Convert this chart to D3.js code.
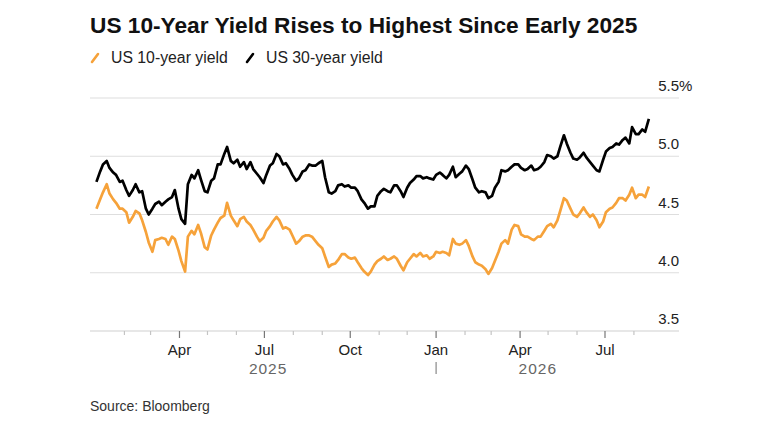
<!DOCTYPE html>
<html>
<head>
<meta charset="utf-8">
<script src="https://cdn.jsdelivr.net/npm/d3@7"></script>
<style>
  body { margin: 0; background: #fff; }
  svg { display: block; font-family: "Liberation Sans", Arial, sans-serif; }
</style>
</head>
<body>
<svg width="760" height="432"></svg>
<script>
// observation dates (Thu / Mon pairs)
var dates = [
  "2025-01-02","2025-01-06","2025-01-09","2025-01-13","2025-01-16","2025-01-20","2025-01-23","2025-01-27",
  "2025-01-30","2025-02-03","2025-02-06","2025-02-10","2025-02-13","2025-02-17","2025-02-20","2025-02-24",
  "2025-02-27","2025-03-03","2025-03-06","2025-03-10","2025-03-13","2025-03-17","2025-03-20","2025-03-24",
  "2025-03-27","2025-03-31","2025-04-03","2025-04-07","2025-04-10","2025-04-14","2025-04-17","2025-04-21",
  "2025-04-24","2025-04-28","2025-05-01","2025-05-05","2025-05-08","2025-05-12","2025-05-15","2025-05-19",
  "2025-05-22","2025-05-26","2025-05-29","2025-06-02","2025-06-05","2025-06-09","2025-06-12","2025-06-16",
  "2025-06-19","2025-06-23","2025-06-26","2025-06-30","2025-07-03","2025-07-07","2025-07-10","2025-07-14",
  "2025-07-17","2025-07-21","2025-07-24","2025-07-28","2025-07-31","2025-08-04","2025-08-07","2025-08-11",
  "2025-08-14","2025-08-18","2025-08-21","2025-08-25","2025-08-28","2025-09-01","2025-09-04","2025-09-08",
  "2025-09-11","2025-09-15","2025-09-18","2025-09-22","2025-09-25","2025-09-29","2025-10-02","2025-10-06",
  "2025-10-09","2025-10-13","2025-10-16","2025-10-20","2025-10-23","2025-10-27","2025-10-30","2025-11-03",
  "2025-11-06","2025-11-10","2025-11-13","2025-11-17","2025-11-20","2025-11-24","2025-11-27","2025-12-01",
  "2025-12-04","2025-12-08","2025-12-11","2025-12-15","2025-12-18","2025-12-22","2025-12-25","2025-12-29",
  "2026-01-01","2026-01-05","2026-01-08","2026-01-12","2026-01-15","2026-01-19","2026-01-22","2026-01-26",
  "2026-01-29","2026-02-02","2026-02-05","2026-02-09","2026-02-12","2026-02-16","2026-02-19","2026-02-23",
  "2026-02-26","2026-03-02","2026-03-05","2026-03-09","2026-03-12","2026-03-16","2026-03-19","2026-03-23",
  "2026-03-26","2026-03-30","2026-04-02","2026-04-06","2026-04-09","2026-04-13","2026-04-16","2026-04-20",
  "2026-04-23","2026-04-27","2026-04-30","2026-05-04","2026-05-07","2026-05-11","2026-05-14","2026-05-18",
  "2026-05-21","2026-05-25","2026-05-28","2026-06-01","2026-06-04","2026-06-08","2026-06-11","2026-06-15",
  "2026-06-18","2026-06-22","2026-06-25","2026-06-29","2026-07-02","2026-07-06","2026-07-09","2026-07-13",
  "2026-07-16","2026-07-20","2026-07-23","2026-07-27","2026-07-30","2026-08-03","2026-08-06","2026-08-10",
  "2026-08-13","2026-08-17"
];

var tenYear = [
  4.55,4.63, 4.69,4.76, 4.68,4.63, 4.60,4.55, 4.55,4.52, 4.43,4.48, 4.53,4.51, 4.45,4.35,
  4.26,4.18, 4.28,4.29, 4.30,4.29, 4.24,4.31, 4.29,4.19, 4.10,4.01, 4.31,4.36, 4.33,4.41,
  4.34,4.22, 4.20,4.32, 4.37,4.43, 4.47,4.49, 4.60,4.49, 4.45,4.40, 4.46,4.48, 4.44,4.41,
  4.37,4.31, 4.27,4.30, 4.36,4.40, 4.44,4.48, 4.45,4.38, 4.39,4.37, 4.32,4.25, 4.27,4.31,
  4.32,4.32, 4.31,4.27, 4.24,4.21, 4.14,4.05, 4.07,4.08, 4.11,4.16, 4.16,4.13, 4.12,4.13,
  4.09,4.04, 4.01,3.98, 4.01,4.07, 4.10,4.12, 4.14,4.11, 4.12,4.14, 4.12,4.06, 4.02,4.09,
  4.12,4.16, 4.14,4.17, 4.14,4.15, 4.12,4.14, 4.18,4.17, 4.18,4.17, 4.15,4.29, 4.25,4.24,
  4.25,4.28, 4.23,4.14, 4.09,4.07, 4.06,4.03, 3.99,4.04, 4.10,4.18, 4.25,4.28, 4.25,4.37,
  4.41,4.40, 4.33,4.31, 4.31,4.29, 4.28,4.31, 4.31,4.36, 4.40,4.42, 4.39,4.45, 4.53,4.64,
  4.62,4.55, 4.50,4.48, 4.51,4.56, 4.52,4.48, 4.50,4.45, 4.39,4.44, 4.52,4.55, 4.56,4.60,
  4.64,4.64, 4.62,4.67, 4.73,4.64, 4.67,4.67, 4.65,4.74
];

var thirtyYear = [
  4.78,4.87, 4.93,4.96, 4.90,4.86, 4.84,4.78, 4.79,4.71, 4.66,4.71, 4.76,4.69, 4.70,4.55,
  4.50,4.55, 4.59,4.61, 4.58,4.61, 4.63,4.65, 4.71,4.55, 4.46,4.42, 4.76,4.84, 4.81,4.88,
  4.80,4.70, 4.69,4.79, 4.81,4.93, 4.93,5.02, 5.08,4.96, 4.94,4.97, 4.91,4.95, 4.89,4.95,
  4.89,4.85, 4.82,4.77, 4.84,4.92, 4.94,5.02, 5.00,4.93, 4.94,4.89, 4.84,4.79, 4.81,4.87,
  4.88,4.93, 4.92,4.92, 4.94,4.96, 4.82,4.69, 4.68,4.70, 4.75,4.76, 4.74,4.75, 4.73,4.73,
  4.70,4.63, 4.60,4.55, 4.57,4.57, 4.66,4.70, 4.72,4.70, 4.69,4.75, 4.75,4.70, 4.65,4.73,
  4.77,4.80, 4.83,4.83, 4.81,4.82, 4.81,4.80, 4.84,4.86, 4.84,4.81, 4.84,4.91, 4.82,4.85,
  4.87,4.92, 4.89,4.80, 4.73,4.69, 4.70,4.69, 4.64,4.66, 4.73,4.78, 4.88,4.87, 4.88,4.91,
  4.93,4.93, 4.90,4.88, 4.89,4.92, 4.88,4.89, 4.91,4.95, 5.01,5.00, 4.98,5.00, 5.08,5.18,
  5.11,5.03, 4.98,4.97, 4.99,5.03, 4.99,4.95, 4.92,4.88, 4.87,4.97, 5.04,5.07, 5.08,5.11,
  5.10,5.14, 5.16,5.11, 5.25,5.19, 5.19,5.23, 5.21,5.32
];

var yTicks = [3.5, 4.0, 4.5, 5.0, 5.5];
var quarterLabels = ["Apr", "Jul", "Oct", "Jan", "Apr", "Jul"];
var quarterDates = ["2025-04-01", "2025-07-01", "2025-10-01", "2026-01-01", "2026-04-01", "2026-07-01"];
var yearLabels = ["2025", "2026"];
var yearDates = ["2025-07-05", "2026-04-20"];

var svg = d3.select("svg"),
    width = +svg.attr("width"),
    height = +svg.attr("height");

var parse = d3.timeParse("%Y-%m-%d");
var orange = "#f6a23a";

var plotLeft = 90, plotRight = 679, plotTop = 98, plotBottom = 331;

var x = d3.scaleTime()
    .domain([parse("2025-01-01"), parse("2026-07-01")])
    .range([95.5, 605]);

var y = d3.scaleLinear()
    .domain([3.5, 5.5])
    .range([plotBottom, plotTop]);

// title + legend
svg.append("text")
    .attr("x", plotLeft).attr("y", 33)
    .attr("font-size", "22.7px").attr("font-weight", 700)
    .attr("fill", "#111")
    .text("US 10-Year Yield Rises to Highest Since Early 2025");

var legend = [
  { name: "US 10-year yield", color: orange, x: plotLeft },
  { name: "US 30-year yield", color: "#000", x: 245 }
];

var lg = svg.selectAll(".legend").data(legend).enter().append("g")
    .attr("transform", function(d) { return "translate(" + d.x + ",0)"; });
lg.append("line")
    .attr("x1", 2).attr("y1", 62).attr("x2", 8).attr("y2", 54)
    .attr("stroke", function(d) { return d.color; })
    .attr("stroke-width", 2.6).attr("stroke-linecap", "round");
lg.append("text")
    .attr("x", 21).attr("y", 63)
    .attr("font-size", "15.8px").attr("fill", "#222")
    .text(function(d) { return d.name; });

// gridlines
svg.append("g").selectAll("line")
    .data(yTicks)
    .enter().append("line")
    .attr("x1", plotLeft).attr("x2", plotRight)
    .attr("y1", function(d) { return y(d); })
    .attr("y2", function(d) { return y(d); })
    .attr("stroke", function(d) { return d === 3.5 ? "#cfcfcf" : "#dedede"; })
    .attr("stroke-width", 1.2);

svg.append("g").selectAll("text")
    .data(yTicks)
    .enter().append("text")
    .attr("x", plotRight).attr("y", function(d) { return y(d) - 7; })
    .attr("text-anchor", "end")
    .attr("font-size", "15px").attr("fill", "#222")
    .text(function(d) { return d.toFixed(1); });

svg.append("text")
    .attr("x", plotRight).attr("y", y(5.5) - 7)
    .attr("font-size", "15px").attr("fill", "#222")
    .text("%");

// x ticks: monthly minor, quarterly major
var months = d3.timeMonth.range(parse("2025-02-01"), parse("2026-09-01"));
svg.append("g").selectAll("line")
    .data(months)
    .enter().append("line")
    .attr("x1", function(d) { return x(d); })
    .attr("x2", function(d) { return x(d); })
    .attr("y1", plotBottom)
    .attr("y2", function(d) { return d.getMonth() % 3 === 0 ? plotBottom + 7 : plotBottom + 4; })
    .attr("stroke", function(d) { return d.getMonth() % 3 === 0 ? "#777" : "#c4c4c4"; })
    .attr("stroke-width", 1.2);

svg.append("g").selectAll("text")
    .data(quarterLabels)
    .enter().append("text")
    .attr("x", function(d, i) { return x(parse(quarterDates[i])); })
    .attr("y", 354.5)
    .attr("text-anchor", "middle")
    .attr("font-size", "15px").attr("fill", "#222")
    .text(function(d) { return d; });

svg.append("g").selectAll("text")
    .data(yearLabels)
    .enter().append("text")
    .attr("x", function(d, i) { return x(parse(yearDates[i])); })
    .attr("y", 373.5)
    .attr("text-anchor", "middle")
    .attr("font-size", "15.5px").attr("fill", "#666")
    .attr("letter-spacing", "1px")
    .text(function(d) { return d; });

svg.append("line")
    .attr("x1", x(parse("2026-01-01"))).attr("x2", x(parse("2026-01-01")))
    .attr("y1", 362).attr("y2", 374)
    .attr("stroke", "#888").attr("stroke-width", 1.2);

// lines
var line = d3.line()
    .x(function(d, i) { return x(parse(dates[i])); })
    .y(function(d) { return y(d); });

svg.append("path")
    .datum(tenYear)
    .attr("fill", "none")
    .attr("stroke", orange)
    .attr("stroke-width", 2.7)
    .attr("stroke-linejoin", "round")
    .attr("d", line);

svg.append("path")
    .datum(thirtyYear)
    .attr("fill", "none")
    .attr("stroke", "#000")
    .attr("stroke-width", 2.7)
    .attr("stroke-linejoin", "round")
    .attr("d", line);

svg.append("text")
    .attr("x", plotLeft).attr("y", 411)
    .attr("font-size", "14px").attr("fill", "#333")
    .text("Source: Bloomberg");
</script>
</body>
</html>
